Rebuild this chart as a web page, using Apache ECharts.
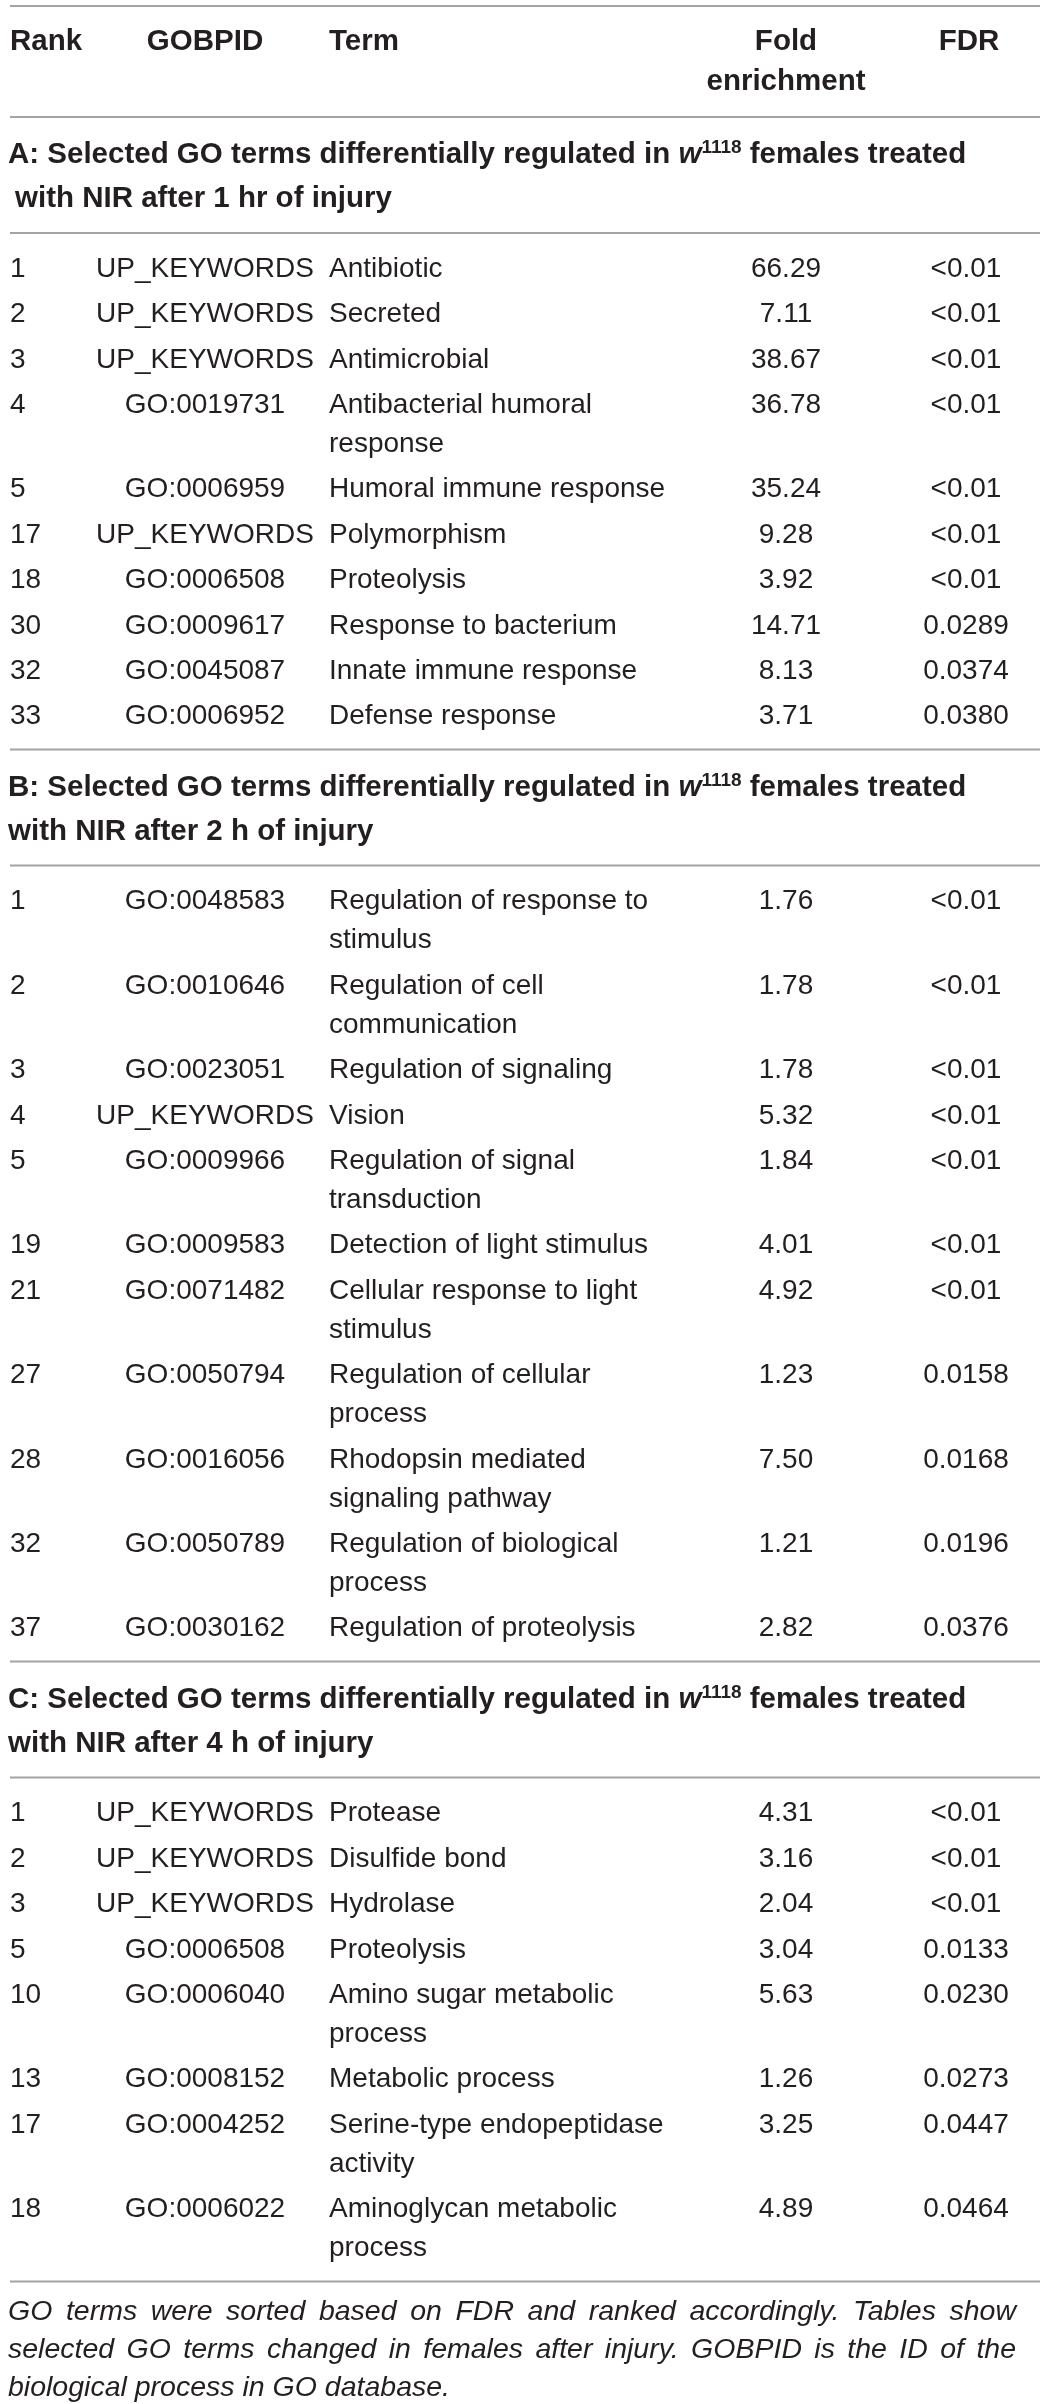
<!DOCTYPE html>
<html><head><meta charset="utf-8">
<script src="https://cdn.jsdelivr.net/npm/echarts@6/dist/echarts.min.js"></script>
<style>html,body{margin:0;padding:0;background:#fff}#c{width:1044px;height:2404px}</style>
</head><body><div id="c"></div>
<script>
// ---------- data ----------
const headerCols = ['Rank', 'GOBPID', 'Term', 'Fold\nenrichment', 'FDR'];

const titleLetters = ['A', 'B', 'C'];
const titleTimes = ['1 hr', '2 h', '4 h'];

const rankA = [1, 2, 3, 4, 5, 17, 18, 30, 32, 33];
const idA = ['UP_KEYWORDS', 'UP_KEYWORDS', 'UP_KEYWORDS', 'GO:0019731', 'GO:0006959', 'UP_KEYWORDS', 'GO:0006508', 'GO:0009617', 'GO:0045087', 'GO:0006952'];
const termA = ['Antibiotic', 'Secreted', 'Antimicrobial', 'Antibacterial humoral\nresponse', 'Humoral immune response', 'Polymorphism', 'Proteolysis', 'Response to bacterium', 'Innate immune response', 'Defense response'];
const foldA = [66.29, 7.11, 38.67, 36.78, 35.24, 9.28, 3.92, 14.71, 8.13, 3.71];
const fdrA = ['<0.01', '<0.01', '<0.01', '<0.01', '<0.01', '<0.01', '<0.01', '0.0289', '0.0374', '0.0380'];

const rankB = [1, 2, 3, 4, 5, 19, 21, 27, 28, 32, 37];
const idB = ['GO:0048583', 'GO:0010646', 'GO:0023051', 'UP_KEYWORDS', 'GO:0009966', 'GO:0009583', 'GO:0071482', 'GO:0050794', 'GO:0016056', 'GO:0050789', 'GO:0030162'];
const termB = ['Regulation of response to\nstimulus', 'Regulation of cell\ncommunication', 'Regulation of signaling', 'Vision', 'Regulation of signal\ntransduction', 'Detection of light stimulus', 'Cellular response to light\nstimulus', 'Regulation of cellular\nprocess', 'Rhodopsin mediated\nsignaling pathway', 'Regulation of biological\nprocess', 'Regulation of proteolysis'];
const foldB = [1.76, 1.78, 1.78, 5.32, 1.84, 4.01, 4.92, 1.23, 7.50, 1.21, 2.82];
const fdrB = ['<0.01', '<0.01', '<0.01', '<0.01', '<0.01', '<0.01', '<0.01', '0.0158', '0.0168', '0.0196', '0.0376'];

const rankC = [1, 2, 3, 5, 10, 13, 17, 18];
const idC = ['UP_KEYWORDS', 'UP_KEYWORDS', 'UP_KEYWORDS', 'GO:0006508', 'GO:0006040', 'GO:0008152', 'GO:0004252', 'GO:0006022'];
const termC = ['Protease', 'Disulfide bond', 'Hydrolase', 'Proteolysis', 'Amino sugar metabolic\nprocess', 'Metabolic process', 'Serine-type endopeptidase\nactivity', 'Aminoglycan metabolic\nprocess'];
const foldC = [4.31, 3.16, 2.04, 3.04, 5.63, 1.26, 3.25, 4.89];
const fdrC = ['<0.01', '<0.01', '<0.01', '0.0133', '0.0230', '0.0273', '0.0447', '0.0464'];

const footLines = [
  'GO terms were sorted based on FDR and ranked accordingly. Tables show',
  'selected GO terms changed in females after injury. GOBPID is the ID of the',
  'biological process in GO database.'
];

// ---------- layout ----------
const W = 1044, H = 2404;
const FONT = '"Liberation Sans", Arial, Helvetica, sans-serif';
const INK = '#231f20';
const RULE = '#a3a3a3';
const X0 = 10, X1 = 1040;
const colX = { rank: 10, id: 205, term: 329, fold: 786, fdr: 966 };
const P = 45.4, L = 39;
const BODY = 28;
const BOLD = 29.5;

const sections = [
  { rank: rankA, id: idA, term: termA, fold: foldA, fdr: fdrA },
  { rank: rankB, id: idB, term: termB, fold: foldB, fdr: fdrB },
  { rank: rankC, id: idC, term: termC, fold: foldC, fdr: fdrC }
];

const items = [];
items.push({ kind: 'line', y: 6 });
items.push({ kind: 'header', y: 42 });
items.push({ kind: 'line', y: 117 });
let y = 117;
sections.forEach((s, si) => {
  items.push({ kind: 'title', y: y + 38, si: si });
  y = y + 38 + 44 + 34;
  items.push({ kind: 'line', y: y });
  let ry = y + 36, last = ry;
  s.rank.forEach((r, i) => {
    const nl = s.term[i].split('\n').length;
    items.push({ kind: 'row', y: ry, si: si, i: i });
    last = ry + (nl - 1) * L;
    ry += P + (nl - 1) * L;
  });
  y = last + 33;
  items.push({ kind: 'line', y: y });
});
footLines.forEach((t, i) => {
  items.push({ kind: 'foot', y: y + 31 + i * 38, i: i });
});

// measuring for justified footnote
const mctx = document.createElement('canvas').getContext('2d');
const FOOT_SIZE = 28.5;
mctx.font = 'italic ' + FOOT_SIZE + 'px ' + FONT;

function renderItem(params, api) {
  const it = items[params.dataIndex];
  const children = [];
  function txt(x, yy, text, opt) {
    const p = api.coord([x, yy]);
    children.push({
      type: 'text', x: p[0], y: p[1],
      style: Object.assign({
        text: text, fill: INK, fontFamily: FONT, fontSize: BODY,
        align: 'left', verticalAlign: 'middle'
      }, opt || {})
    });
  }
  if (it.kind === 'line') {
    const a = api.coord([X0, it.y]), b = api.coord([X1, it.y]);
    children.push({ type: 'line', shape: { x1: a[0], y1: a[1], x2: b[0], y2: b[1] }, style: { stroke: RULE, lineWidth: 2 } });
  } else if (it.kind === 'header') {
    const hb = { fontWeight: 'bold', fontSize: BOLD, verticalAlign: 'top', lineHeight: 40 };
    txt(colX.rank, it.y - 20, headerCols[0], hb);
    txt(colX.id, it.y - 20, headerCols[1], Object.assign({}, hb, { align: 'center' }));
    txt(colX.term, it.y - 20, headerCols[2], hb);
    txt(colX.fold, it.y - 20, headerCols[3], Object.assign({}, hb, { align: 'center' }));
    txt(colX.fdr + 3, it.y - 20, headerCols[4], Object.assign({}, hb, { align: 'center' }));
  } else if (it.kind === 'title') {
    const letter = titleLetters[it.si];
    const rich = {
      b: { fontWeight: 'bold', fontSize: BOLD, fontFamily: FONT, fill: INK, lineHeight: 33 },
      w: { fontWeight: 'bold', fontStyle: 'italic', fontSize: BOLD, fontFamily: FONT, fill: INK, lineHeight: 33 },
      s: { fontWeight: 'bold', fontSize: 19, fontFamily: FONT, fill: INK, lineHeight: 19, verticalAlign: 'top' }
    };
    txt(X0 - 2, it.y, '{b|' + letter + ': Selected GO terms differentially regulated in }{w|w}{s|1118}{b| females treated}', { rich: rich });
    txt(X0 + (it.si === 0 ? 5 : -2), it.y + 44, 'with NIR after ' + titleTimes[it.si] + ' of injury', { fontWeight: 'bold', fontSize: BOLD });
  } else if (it.kind === 'row') {
    const s = sections[it.si], i = it.i;
    const o = { verticalAlign: 'top', lineHeight: L };
    const yy = it.y - L / 2;
    txt(colX.rank, yy, String(s.rank[i]), o);
    txt(colX.id, yy, s.id[i], Object.assign({}, o, { align: 'center' }));
    txt(colX.term, yy, s.term[i], o);
    txt(colX.fold, yy, s.fold[i].toFixed(2), Object.assign({}, o, { align: 'center' }));
    txt(colX.fdr, yy, s.fdr[i], Object.assign({}, o, { align: 'center' }));
  } else if (it.kind === 'foot') {
    const line = footLines[it.i];
    const fo = { fontStyle: 'italic', fontSize: FOOT_SIZE };
    if (it.i < footLines.length - 1) {
      const words = line.split(' ');
      const widths = words.map(w => mctx.measureText(w).width);
      const total = widths.reduce((a, b) => a + b, 0);
      const left = 8, right = 1016;
      const gap = (right - left - total) / (words.length - 1);
      let x = left;
      words.forEach((w, k) => { txt(x, it.y, w, fo); x += widths[k] + gap; });
    } else {
      txt(8, it.y, line, fo);
    }
  }
  return { type: 'group', children: children };
}

const chart = echarts.init(document.getElementById('c'), null, { renderer: 'canvas' });
chart.setOption({
  animation: false,
  backgroundColor: '#ffffff',
  grid: { left: 0, right: 0, top: 0, bottom: 0 },
  xAxis: { type: 'value', min: 0, max: W, show: false },
  yAxis: { type: 'value', min: 0, max: H, inverse: true, show: false },
  series: [{
    type: 'custom',
    silent: true,
    clip: false,
    renderItem: renderItem,
    data: items.map(d => [0, d.y]),
    encode: { x: 0, y: 1 }
  }]
});
</script>
</body></html>
